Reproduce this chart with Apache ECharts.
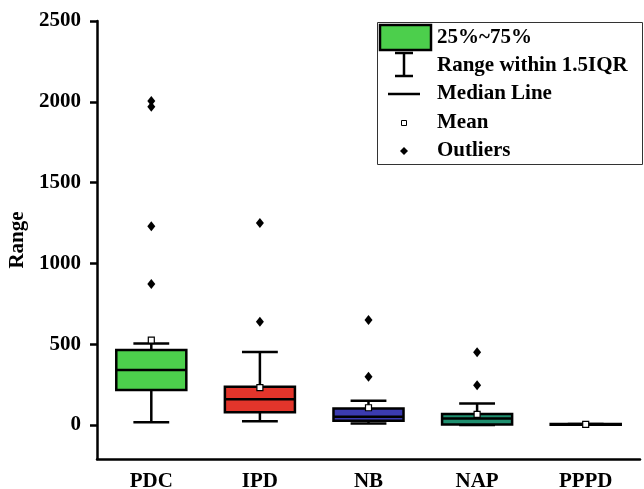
<!DOCTYPE html>
<html>
<head>
<meta charset="utf-8">
<script src="https://cdn.jsdelivr.net/npm/echarts@6/dist/echarts.min.js"></script>
<style>html,body{margin:0;padding:0;background:#fff;}#c{width:644px;height:489px;}</style>
</head>
<body>
<div id="c"></div>
<script>
var categories = ['PDC', 'IPD', 'NB', 'NAP', 'PPPD'];
var whiskerLow = [17, 23, 10, 0, 3];
var q1Values = [217, 79, 27, 3, 2];
var medianValues = [340, 159, 51, 41, 4];
var q3Values = [464, 237, 103, 68, 6];
var whiskerHigh = [505, 452, 150, 134, 6];
var meanValues = [526, 231, 107, 66, 4];
var outlierPDC = [872, 1230, 1970, 2005];
var outlierIPD = [639, 1250];
var outlierNB = [299, 650];
var outlierNAP = [246, 450];
var outlierPPPD = [];
var yTicks = [0, 500, 1000, 1500, 2000, 2500];
var legendLabels = ['25%~75%', 'Range within 1.5IQR', 'Median Line', 'Mean', 'Outliers'];

var boxColors = ['#4CCF4C', '#E2352B', '#3B3BB0', '#1F8F6F', '#4CCF4C'];
var FONT = "'Liberation Serif','Times New Roman',serif";

var boxData = categories.map(function (c, i) {
  return [i, whiskerLow[i], q1Values[i], medianValues[i], q3Values[i], whiskerHigh[i]];
});
var outlierLists = [outlierPDC, outlierIPD, outlierNB, outlierNAP, outlierPPPD];
var outlierData = [];
outlierLists.forEach(function (arr, i) {
  arr.forEach(function (v) { outlierData.push([i, v]); });
});
var meanData = meanValues.map(function (v, i) { return [i, v]; });

function renderBox(params, api) {
  var idx = api.value(0);
  var band = api.size([1, 0])[0];
  var bw = band * 0.645;
  var cw = band * 0.33;
  var pLow = api.coord([idx, api.value(1)]);
  var pQ1 = api.coord([idx, api.value(2)]);
  var pMed = api.coord([idx, api.value(3)]);
  var pQ3 = api.coord([idx, api.value(4)]);
  var pHigh = api.coord([idx, api.value(5)]);
  var x = pQ1[0];
  var lineStyle = { stroke: '#000', lineWidth: 2.5 };
  return {
    type: 'group',
    children: [
      { type: 'line', shape: { x1: x, y1: pQ3[1], x2: x, y2: pHigh[1] }, style: lineStyle },
      { type: 'line', shape: { x1: x, y1: pQ1[1], x2: x, y2: pLow[1] }, style: lineStyle },
      { type: 'line', shape: { x1: x - cw / 2, y1: pHigh[1], x2: x + cw / 2, y2: pHigh[1] }, style: lineStyle },
      { type: 'line', shape: { x1: x - cw / 2, y1: pLow[1], x2: x + cw / 2, y2: pLow[1] }, style: lineStyle },
      { type: 'rect', shape: { x: x - bw / 2, y: pQ3[1], width: bw, height: pQ1[1] - pQ3[1] },
        style: { fill: boxColors[idx], stroke: '#000', lineWidth: 2.5 } },
      { type: 'line', shape: { x1: x - bw / 2, y1: pMed[1], x2: x + bw / 2, y2: pMed[1] }, style: lineStyle }
    ]
  };
}

var chart = echarts.init(document.getElementById('c'), null, { renderer: 'canvas' });
var textStyle = { fontFamily: FONT, fontWeight: 'bold', fontSize: 21, color: '#000' };

var legendX = 404;
var rowY = [38, 66, 94, 123, 151];
var graphics = [
  { type: 'rect', shape: { x: 377.5, y: 22.5, width: 265, height: 142 }, style: { fill: '#fff', stroke: '#333', lineWidth: 1 }, z: 100 },
  { type: 'rect', shape: { x: 380, y: 25, width: 51, height: 25 }, style: { fill: '#4CCF4C', stroke: '#000', lineWidth: 2.5 }, z: 101 },
  { type: 'line', shape: { x1: legendX, y1: 53, x2: legendX, y2: 76 }, style: { stroke: '#000', lineWidth: 2.5 }, z: 101 },
  { type: 'line', shape: { x1: 395, y1: 53, x2: 413, y2: 53 }, style: { stroke: '#000', lineWidth: 2.5 }, z: 101 },
  { type: 'line', shape: { x1: 395, y1: 76, x2: 413, y2: 76 }, style: { stroke: '#000', lineWidth: 2.5 }, z: 101 },
  { type: 'line', shape: { x1: 388, y1: 94, x2: 420, y2: 94 }, style: { stroke: '#000', lineWidth: 2.5 }, z: 101 },
  { type: 'rect', shape: { x: 401.5, y: 120.5, width: 5, height: 5 }, style: { fill: '#fff', stroke: '#000', lineWidth: 1 }, z: 101 },
  { type: 'polygon', shape: { points: [[legendX, 147], [legendX + 4, 151], [legendX, 155], [legendX - 4, 151]] }, style: { fill: '#000' }, z: 101 }
];
legendLabels.forEach(function (t, i) {
  graphics.push({ type: 'text', x: 437, y: rowY[i], z: 102,
    style: { text: t, fontFamily: FONT, fontWeight: 'bold', fontSize: 21, fill: '#000', verticalAlign: 'middle', align: 'left' } });
});

chart.setOption({
  backgroundColor: '#fff',
  animation: false,
  grid: { left: 97, right: 4, top: 21, bottom: 30, containLabel: false, outerBoundsMode: 'none' },
  xAxis: {
    type: 'category',
    data: categories,
    boundaryGap: true,
    axisLine: { onZero: false, lineStyle: { color: '#000', width: 2.5 } },
    axisTick: { alignWithLabel: true, length: 8, lineStyle: { color: '#000', width: 2.5 } },
    axisLabel: Object.assign({ margin: 12 }, textStyle),
    splitLine: { show: false }
  },
  yAxis: {
    type: 'value',
    min: -210,
    max: 2500,
    name: 'Range',
    nameLocation: 'middle',
    nameRotate: 90,
    nameGap: 67,
    nameTextStyle: textStyle,
    axisLine: { show: true, lineStyle: { color: '#000', width: 2.5 } },
    axisTick: { show: true, length: 7, customValues: yTicks, lineStyle: { color: '#000', width: 2.5 } },
    axisLabel: Object.assign({ margin: 16, customValues: yTicks, formatter: function (v) { return String(v); } }, textStyle),
    splitLine: { show: false }
  },
  series: [
    { type: 'custom', renderItem: renderBox, data: boxData, encode: { x: 0, y: [1, 2, 3, 4, 5] }, z: 2 },
    { type: 'scatter', data: outlierData, symbol: 'diamond', symbolSize: [8, 10], itemStyle: { color: '#000', opacity: 1 }, z: 3 },
    { type: 'scatter', data: meanData, symbol: 'rect', symbolSize: 6, itemStyle: { color: '#fff', borderColor: '#000', borderWidth: 1.2, opacity: 1 }, z: 4 }
  ],
  graphic: graphics
});
</script>
</body>
</html>
